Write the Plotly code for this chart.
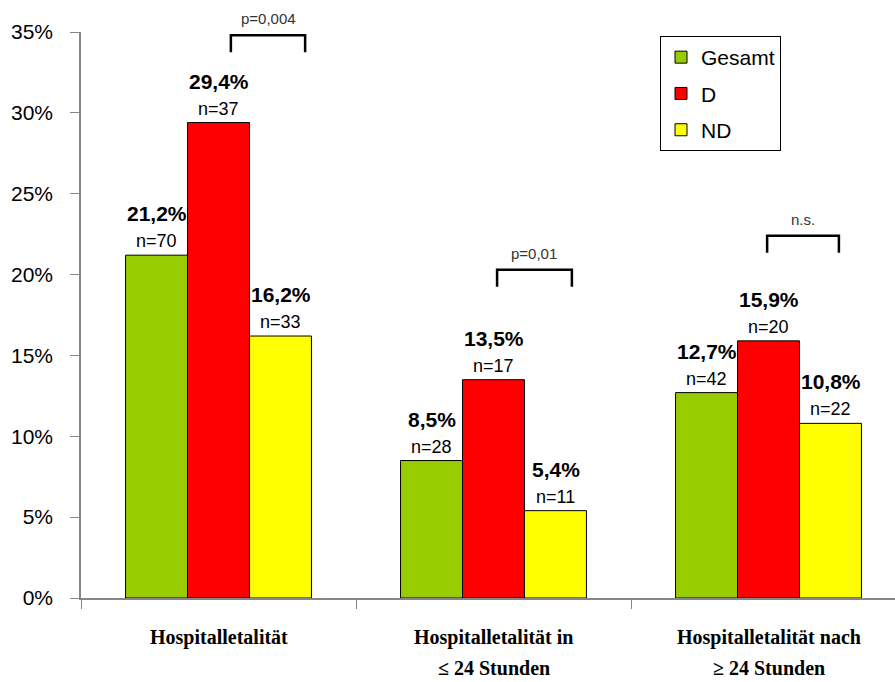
import plotly.graph_objects as go

# Hospital lethality by group
categories = ["Hospitalletalität", "Hospitalletalität in", "Hospitalletalität nach"]
category_line2 = ["", "≤ 24 Stunden", "≥ 24 Stunden"]
series_names = ["Gesamt", "D", "ND"]
series_colors = ["#99CC00", "#FF0000", "#FFFF00"]
values = {
    "Gesamt": [21.2, 8.5, 12.7],
    "D": [29.4, 13.5, 15.9],
    "ND": [16.2, 5.4, 10.8],
}
counts = {
    "Gesamt": [70, 28, 42],
    "D": [37, 17, 20],
    "ND": [33, 11, 22],
}
p_labels = ["p=0,004", "p=0,01", "n.s."]
y_ticks = [0, 5, 10, 15, 20, 25, 30, 35]

SANS = "Liberation Sans, Arial, sans-serif"
SERIF = "Liberation Serif, Times New Roman, serif"

fig = go.Figure()
for i, name in enumerate(series_names):
    fig.add_trace(go.Bar(
        name=name,
        x=list(range(len(categories))),
        y=values[name],
        marker=dict(color=series_colors[i], line=dict(color="#000000", width=1)),
        legendgroup=name,
    ))

# value and count labels above each bar
bar_px = 62
annotations = []
for i, name in enumerate(series_names):
    for c, (v, n) in enumerate(zip(values[name], counts[name])):
        xs = (i - 1) * bar_px
        annotations.append(dict(
            x=c, y=v, xref="x", yref="y", xshift=xs, yshift=28,
            text="<b>" + f"{v:.1f}".replace(".", ",") + "%</b>",
            showarrow=False, yanchor="bottom",
            font=dict(family=SANS, size=21, color="#000000"),
        ))
        annotations.append(dict(
            x=c, y=v, xref="x", yref="y", xshift=xs, yshift=2,
            text=f"n={n}",
            showarrow=False, yanchor="bottom",
            font=dict(family=SANS, size=18, color="#000000"),
        ))

# category labels below the axis
for c, (l1, l2) in enumerate(zip(categories, category_line2)):
    annotations.append(dict(
        x=c, y=0, xref="x", yref="y", yshift=-26, yanchor="top",
        text="<b>" + l1 + "</b>", showarrow=False,
        font=dict(family=SERIF, size=20, color="#000000"),
    ))
    if l2:
        annotations.append(dict(
            x=c, y=0, xref="x", yref="y", yshift=-57, yanchor="top",
            text="<b>" + l2 + "</b>", showarrow=False,
            font=dict(family=SERIF, size=20, color="#000000"),
        ))

# significance brackets between D and ND
bracket_left = [0.045, 0.013, -0.005]
bracket_right = [0.315, 0.285, 0.256]
bracket_top = [34.8, 20.3, 22.4]
bracket_leg = 1.05
shapes = []
for c in range(len(categories)):
    x0 = c + bracket_left[c]
    x1 = c + bracket_right[c]
    yt = bracket_top[c]
    shapes.append(dict(
        type="path", xref="x", yref="y",
        path=f"M {x0} {yt - bracket_leg} L {x0} {yt} L {x1} {yt} L {x1} {yt - bracket_leg}",
        line=dict(color="#000000", width=2.5),
    ))
    annotations.append(dict(
        x=(x0 + x1) / 2, y=yt, xref="x", yref="y", yshift=6,
        text=p_labels[c], showarrow=False, yanchor="bottom",
        font=dict(family=SANS, size=15, color="#333333"),
    ))

fig.update_layout(
    width=895, height=682,
    margin=dict(l=81, r=0, t=32, b=84, autoexpand=False),
    paper_bgcolor="#FFFFFF", plot_bgcolor="#FFFFFF",
    barmode="group", bargap=0.324, bargroupgap=0,
    showlegend=True,
    legend=dict(
        x=(660 - 81) / 814, y=1 - (36 - 32) / 566, xref="paper", yref="paper",
        xanchor="left", yanchor="top",
        bordercolor="#000000", borderwidth=1,
        font=dict(family=SANS, size=21, color="#000000"),
        tracegroupgap=6, itemwidth=30,
    ),
    annotations=annotations,
    shapes=shapes,
    xaxis=dict(
        type="linear", range=[-0.5, 2.46],
        tickmode="array", tickvals=[-0.5, 0.5, 1.5, 2.5], ticktext=["", "", "", ""],
        ticks="outside", ticklen=9, tickcolor="#868686", tickwidth=1,
        showline=True, linecolor="#868686", linewidth=2,
        showgrid=False, zeroline=False,
    ),
    yaxis=dict(
        range=[0, 35], tickvals=y_ticks, ticktext=[f"{t}%" for t in y_ticks],
        ticks="outside", ticklen=9, tickcolor="#868686", tickwidth=1,
        ticklabelstandoff=13,
        showline=True, linecolor="#868686", linewidth=1.5,
        showgrid=False, zeroline=False,
        tickfont=dict(family=SANS, size=21, color="#000000"),
    ),
)

fig.write_html("out.html")
